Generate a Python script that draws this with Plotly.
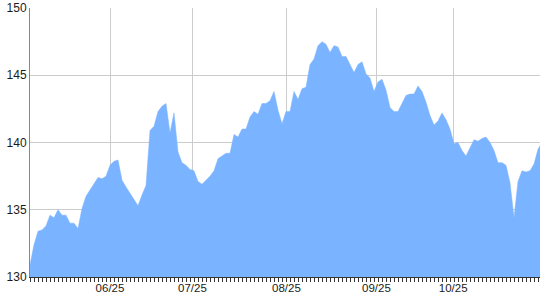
import plotly.graph_objects as go

# trading-day index and closing values
values = [
    130.9, 132.4, 133.4, 133.5, 133.8, 134.6, 134.4, 135.0, 134.6, 134.6,
    134.0, 134.0, 133.6, 135.1, 136.0, 136.5, 137.0, 137.4, 137.3, 137.5,
    138.3, 138.6, 138.7, 137.2, 136.7, 136.2, 135.8, 135.3, 136.1, 136.8,
    140.9, 141.2, 142.3, 142.7, 142.9, 140.7, 142.2, 139.3, 138.5, 138.3,
    138.0, 137.9, 137.1, 136.9, 137.2, 137.5, 137.9, 138.8, 139.0, 139.2,
    139.2, 140.6, 140.4, 141.0, 141.0, 141.9, 142.3, 142.1, 142.9, 142.9,
    143.1, 143.8, 142.4, 141.4, 142.3, 142.3, 143.8, 143.2, 144.0, 144.1,
    145.8, 146.2, 147.2, 147.5, 147.3, 146.7, 147.2, 147.1, 146.4, 146.4,
    145.8, 145.2, 145.8, 146.0, 145.1, 144.8, 143.8, 144.5, 144.7, 143.9,
    142.6, 142.3, 142.3, 142.9, 143.5, 143.6, 143.6, 144.2, 143.8, 143.0,
    142.0, 141.3, 141.6, 142.2, 141.7, 141.0, 139.9, 140.0, 139.4, 139.0,
    139.6, 140.2, 140.1, 140.3, 140.4, 140.0, 139.4, 138.5, 138.5, 138.3,
    137.0, 134.4, 137.1, 137.9, 137.8, 137.9, 138.4, 139.5, 140.0,
]
days = list(range(len(values)))

tick_pos = [20.0, 40.6, 64.1, 86.6, 105.8]
tick_labels = ["06/25", "07/25", "08/25", "09/25", "10/25"]
y_ticks = [130, 135, 140, 145, 150]

fig = go.Figure()
fig.add_trace(go.Scatter(
    x=days, y=values, mode="lines",
    line=dict(color="#7AB3FF", width=0.5),
    fill="tozeroy", fillcolor="#7AB3FF",
    hoverinfo="skip",
))

fig.update_layout(
    width=540, height=300,
    margin=dict(l=30, r=0, t=8, b=23),
    plot_bgcolor="white", paper_bgcolor="white",
    showlegend=False,
    font=dict(family="Liberation Sans", size=11, color="#1a1a1a"),
)
fig.update_xaxes(
    range=[0, 127.5],
    tickvals=tick_pos, ticktext=tick_labels,
    ticks="", showgrid=True, gridcolor="#CCCCCC", gridwidth=1,
    showline=True, linecolor="#333333", linewidth=1,
    zeroline=False,
    minor=dict(tick0=0, dtick=1, ticks="outside", ticklen=4,
               tickcolor="#333333", tickwidth=1, showgrid=False),
    tickfont=dict(size=11.5),
)
fig.update_yaxes(
    range=[130, 150],
    tickvals=y_ticks,
    ticks="", showgrid=True, gridcolor="#CCCCCC", gridwidth=1,
    showline=True, linecolor="#888888", linewidth=1,
    zeroline=False,
    tickfont=dict(size=12),
)

fig.write_html("out.html")
